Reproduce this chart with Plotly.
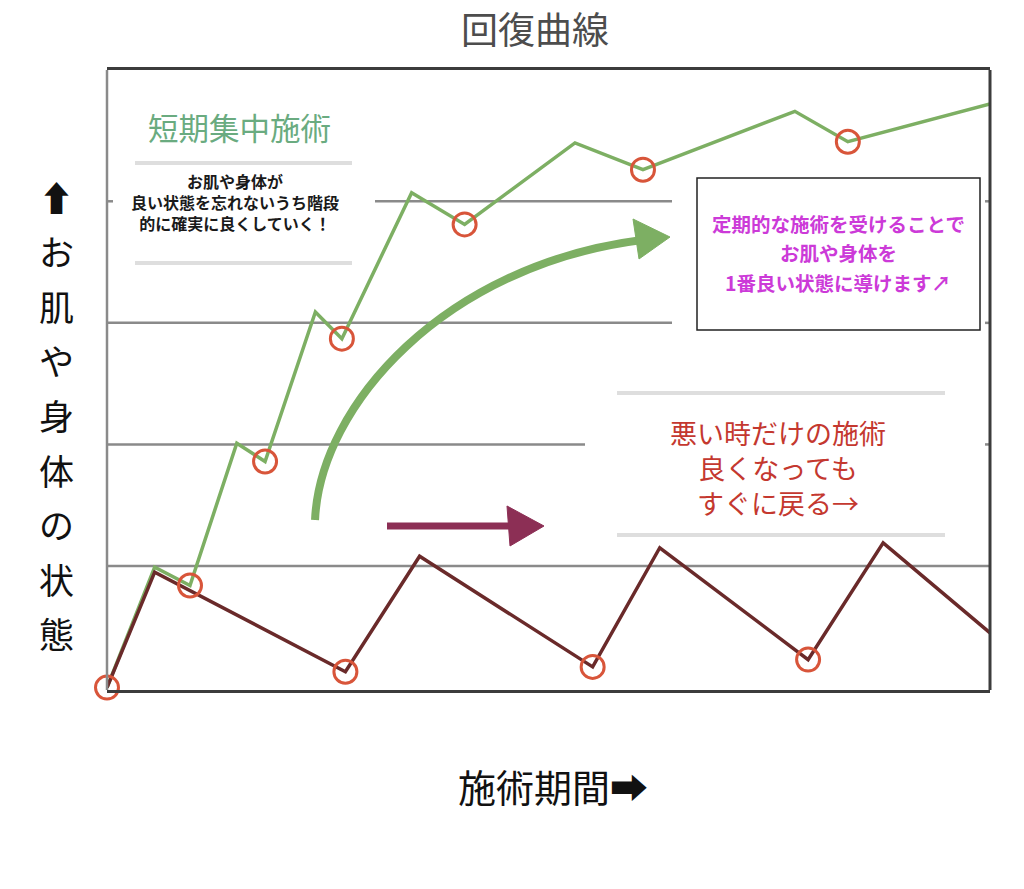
import plotly.graph_objects as go

# values (x = treatment period, y = condition level)
period_green = [0, 0.54, 0.94, 1.47, 1.79, 2.36, 2.66, 3.45, 4.05, 5.30, 6.07, 7.79, 8.39, 10.0]
level_green = [0, 0.99, 0.84, 2.01, 1.86, 3.09, 2.87, 4.07, 3.81, 4.48, 4.26, 4.74, 4.49, 4.80]

period_red = [0, 0.54, 2.70, 3.54, 5.50, 6.26, 7.94, 8.79, 10.0]
level_red = [0, 0.95, 0.13, 1.08, 0.17, 1.15, 0.23, 1.19, 0.45]

# which points carry a red ring
ring_green = [2, 4, 6, 8, 10, 12]
ring_red = [0, 2, 4, 6]

# horizontal guide lines and the pixel stretches where they are not hidden by text
grid_levels = [1, 2, 3, 4]
grid_spans = [
    [(107, 990)],
    [(107, 585), (985, 990)],
    [(107, 672), (985, 990)],
    [(107, 113), (375, 672), (985, 990)],
]

title_text = "回復曲線"
ylabel_chars = ["⬆", "お", "肌", "や", "身", "体", "の", "状", "態"]
xlabel_text = "施術期間➡"
green_head = "短期集中施術"
green_note = ["お肌や身体が", "良い状態を忘れないうち階段", "的に確実に良くしていく！"]
pink_note = ["定期的な施術を受けることで", "お肌や身体を", "1番良い状態に導けます↗"]
red_note = ["悪い時だけの施術", "良くなっても", "すぐに戻る→"]

JP = "Noto Sans CJK JP"
GREEN = "#7daf63"
MAROON = "#6a2a2a"
RING = "#d8553a"

# page offset of the figure (body margin) and plot area in page pixels
OFF = 8
W, H = 1024, 889
L, R, T, B = 107, 990, 70, 690


def px(x):
    return (x - L) / (R - L)


def py(y):
    return (B - y) / (B - T)


def pt(x, y):
    return f"{px(x):.4f},{py(y):.4f}"


fig = go.Figure()

fig.add_trace(go.Scatter(x=period_green, y=level_green, mode="lines",
                         line=dict(color=GREEN, width=3.5), hoverinfo="skip"))
fig.add_trace(go.Scatter(x=period_red, y=level_red, mode="lines",
                         line=dict(color=MAROON, width=3.5), hoverinfo="skip"))
fig.add_trace(go.Scatter(
    x=[period_green[i] for i in ring_green] + [period_red[i] for i in ring_red],
    y=[level_green[i] for i in ring_green] + [level_red[i] for i in ring_red],
    mode="markers", cliponaxis=False,
    marker=dict(symbol="circle-open", size=23, color=RING, line=dict(width=3, color=RING)),
    hoverinfo="skip"))

shapes = []
# guide lines
for level, spans in zip(grid_levels, grid_spans):
    for x0, x1 in spans:
        shapes.append(dict(type="line", xref="paper", yref="y", layer="below",
                           x0=px(x0), x1=px(x1), y0=level, y1=level,
                           line=dict(color="#8a8a8a", width=2.5)))
# framed box on the right
shapes.append(dict(type="rect", xref="paper", yref="paper", layer="below",
                   x0=px(697), x1=px(980), y0=py(330), y1=py(178),
                   fillcolor="white", line=dict(color="#222222", width=1.5)))
# soft grey shadow lines
for x0, x1, y in [(135, 352, 163), (135, 352, 263), (617, 945, 393), (617, 945, 535)]:
    shapes.append(dict(type="line", xref="paper", yref="paper", layer="below",
                       x0=px(x0), x1=px(x1), y0=py(y), y1=py(y),
                       line=dict(color="rgba(0,0,0,0.13)", width=4)))
# curved green arrow
shapes.append(dict(type="path", xref="paper", yref="paper", layer="above",
                   path=f"M {pt(315, 520)} C {pt(320, 405)} {pt(445, 265)} {pt(642, 240)}",
                   line=dict(color=GREEN, width=8)))
shapes.append(dict(type="path", xref="paper", yref="paper", layer="above",
                   path=f"M {pt(670, 237)} L {pt(633, 219)} L {pt(639, 259)} Z",
                   fillcolor=GREEN, line=dict(color=GREEN, width=1)))
# straight maroon arrow
shapes.append(dict(type="line", xref="paper", yref="paper", layer="above",
                   x0=px(387), x1=px(515), y0=py(526), y1=py(526),
                   line=dict(color="#8c2f55", width=7)))
shapes.append(dict(type="path", xref="paper", yref="paper", layer="above",
                   path=f"M {pt(544, 526)} L {pt(507, 506)} L {pt(510, 546)} Z",
                   fillcolor="#8c2f55", line=dict(color="#8c2f55", width=1)))
# left and right frame lines
shapes.append(dict(type="line", xref="paper", yref="paper", layer="above",
                   x0=0, x1=0, y0=0, y1=1, line=dict(color="#8a8a8a", width=2.5)))
shapes.append(dict(type="line", xref="paper", yref="paper", layer="above",
                   x0=1, x1=1, y0=0, y1=1, line=dict(color="#3c3c3c", width=3)))

annotations = []


def note(text, x, y, size, color, bold=False):
    annotations.append(dict(text=f"<b>{text}</b>" if bold else text,
                            xref="paper", yref="paper", x=px(x), y=py(y),
                            xanchor="center", yanchor="middle", showarrow=False,
                            font=dict(family=JP, size=size, color=color)))


note(xlabel_text, 553, 785, 38, "#111111")
for i, ch in enumerate(ylabel_chars):
    note(ch, 56, 196 + i * 54.6, 35, "#111111")
note(green_head, 239, 127, 30.5, "#6aab80")
note("<br>".join(green_note), 235, 202, 16, "#1a1a1a", bold=True)
for i, line in enumerate(pink_note):
    note(line, 838, 223 + i * 29.5, 19.5, "#cc3ad8", bold=True)
note("<br>".join(red_note), 778, 467, 27, "#c4382f")

fig.update_layout(
    width=W, height=H,
    margin=dict(l=L - OFF, r=W - (R - OFF), t=T - OFF, b=H - (B - OFF)),
    paper_bgcolor="white", plot_bgcolor="white",
    showlegend=False,
    title=dict(text=title_text, x=px(535) * (R - L) / W + (L - OFF) / W, xanchor="center",
               y=1 - (31 - OFF) / H, yanchor="middle", yref="container",
               font=dict(family=JP, size=37, color="#4d4d4d")),
    shapes=shapes, annotations=annotations,
    xaxis=dict(range=[0, 10], showgrid=False, zeroline=False, showticklabels=False,
               ticks="", showline=True, mirror=True, linecolor="#3c3c3c", linewidth=3),
    yaxis=dict(range=[-0.02, 5.08], showgrid=False, zeroline=False, showticklabels=False,
               ticks="", showline=False),
)

fig.write_html("out.html")
